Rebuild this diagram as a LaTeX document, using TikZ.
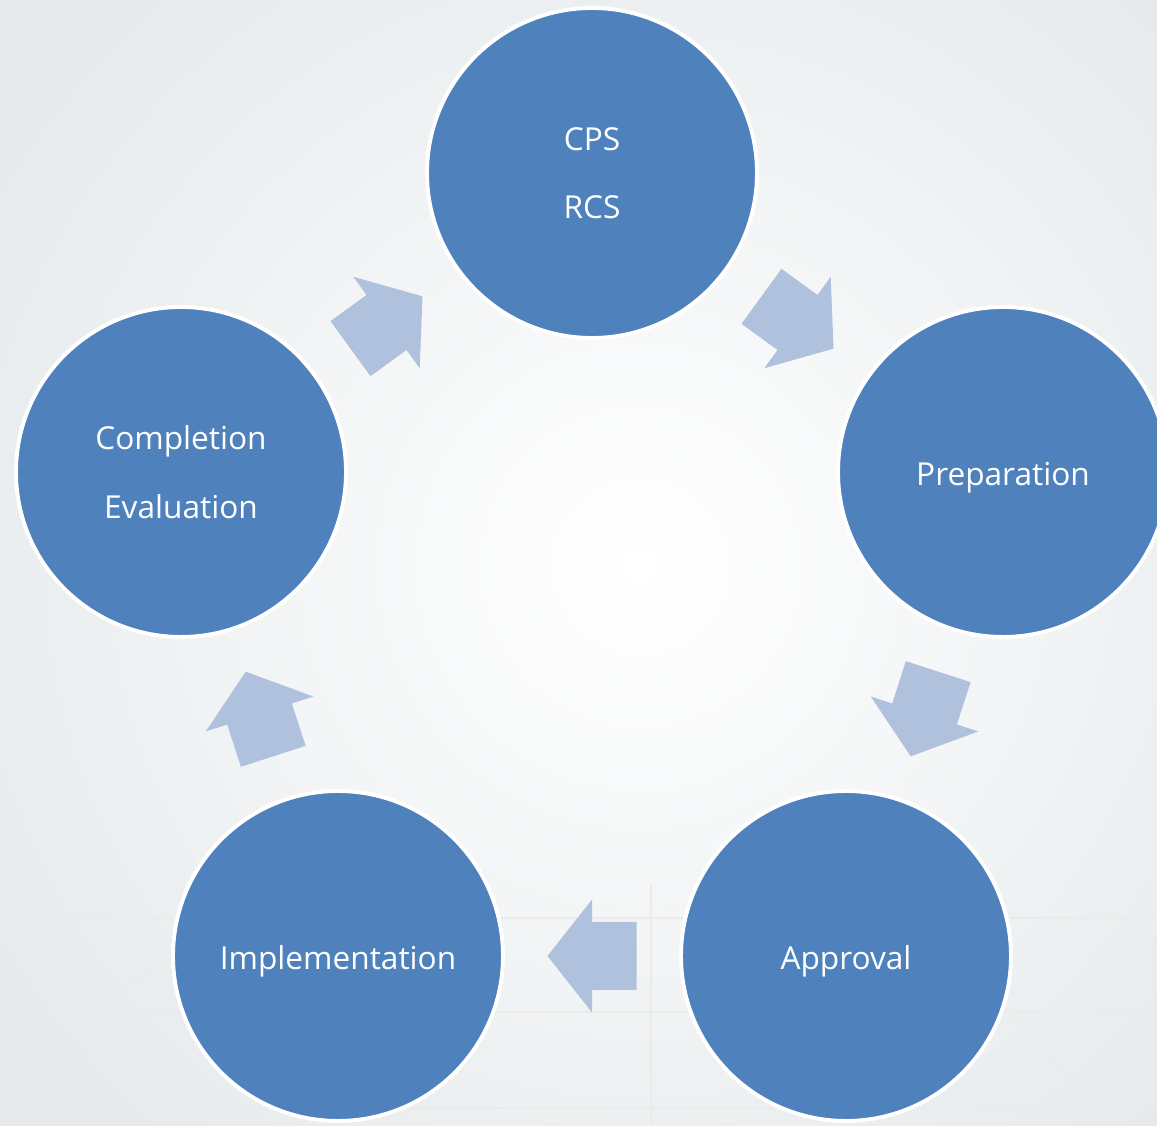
\documentclass[tikz,border=0pt]{standalone}
\usepackage{fontspec}
\setmainfont{Open Sans}
\usetikzlibrary{calc}

\definecolor{stageblue}{RGB}{79,129,189}
\definecolor{arrowblue}{RGB}{176,193,222}
\definecolor{bggray}{RGB}{230,234,236}

\tikzset{
  stage/.style={circle, fill=stageblue, draw=white, line width=2.2pt,
    minimum size=6.6cm, text=white, align=center,
    font=\fontsize{18}{39}\selectfont},
  stagearrow/.pic={
    \fill[arrowblue] (-44.5,-34) -- (0,-34) -- (0,-56.5) -- (44.5,0)
      -- (0,56.5) -- (0,34) -- (-44.5,34) -- cycle;
  }
}

\begin{document}
\begin{tikzpicture}[x=0.02cm,y=0.02cm]
  \clip (0,0) rectangle (1157,1126);
  \fill[bggray] (0,0) rectangle (1157,1126);
  \shade[inner color=white, outer color=bggray] (640,560) circle (760);

  % floor grid
  \coordinate (vp) at (651,475);
  \begin{scope}
    \clip (0,0) rectangle (1157,240);
    \foreach \bx in {-700,-93,300,651,1120,1900}
      \draw[gray!16, line width=1pt] (vp) -- (\bx,0);
    \foreach \hy in {208,114,18}
      \draw[gray!16, line width=1.5pt] (0,\hy) -- (1157,\hy);
  \end{scope}

  \node[stage] (cps)  at (592,953)  {CPS\\RCS};
  \node[stage, text height=0.7cm] (prep) at (1003,654) {Preparation};
  \node[stage, text height=0.7cm] (appr) at (846,170)  {Approval};
  \node[stage, text height=0.7cm] (impl) at (338,170)  {Implementation};
  \node[stage] (eval) at (181,654)  {Completion\\Evaluation};

  \pic[rotate=36]   at ($(eval)!0.5!(cps)$)  {stagearrow};
  \pic[rotate=-36]  at ($(cps)!0.5!(prep)$)  {stagearrow};
  \pic[rotate=-108] at ($(prep)!0.5!(appr)$) {stagearrow};
  \pic[rotate=180]  at ($(appr)!0.5!(impl)$) {stagearrow};
  \pic[rotate=108]  at ($(impl)!0.5!(eval)$) {stagearrow};
\end{tikzpicture}
\end{document}
